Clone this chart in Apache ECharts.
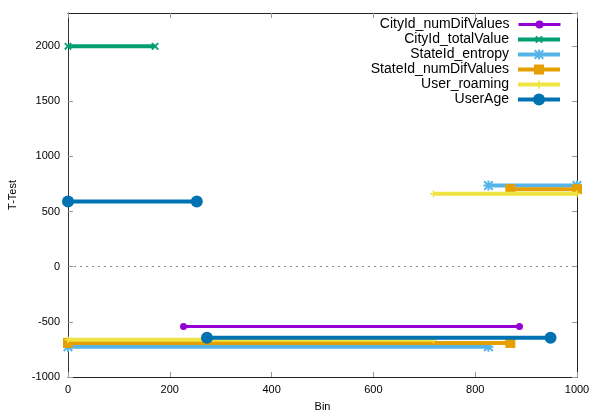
<!DOCTYPE html>
<html>
<head>
<meta charset="utf-8">
<script src="https://cdn.jsdelivr.net/npm/echarts@6/dist/echarts.min.js"></script>
<style>
html,body{margin:0;padding:0;background:#fff;}
#chart{width:595px;height:413px;}
</style>
</head>
<body>
<div id="chart"></div>
<script>
// Series names (legend order = plot order)
const seriesNames = ['CityId_numDifValues', 'CityId_totalValue', 'StateId_entropy', 'StateId_numDifValues', 'User_roaming', 'UserAge'];
// Each series: horizontal segments [xStart, xEnd, yValue]
const cityNumDifSegments = [[227, 887, -542]];
const cityTotalSegments = [[0, 171, 1998]];
const stateEntropySegments = [[0, 826, -725], [826, 1000, 735]];
const stateNumDifSegments = [[0, 869, -691], [869, 1000, 703]];
const userRoamingSegments = [[0, 718, -662], [718, 1000, 662]];
const userAgeSegments = [[0, 253, 592], [273, 948, -645]];
// Axis ticks
const xTicks = [0, 200, 400, 600, 800, 1000];
const yTicks = [-1000, -500, 0, 500, 1000, 1500, 2000];

const segmentLists = [cityNumDifSegments, cityTotalSegments, stateEntropySegments, stateNumDifSegments, userRoamingSegments, userAgeSegments];
const colors = ['#9400d3', '#009e73', '#56b4e9', '#e69f00', '#f0e442', '#0072b2'];
const plusPath = 'path://M4,0H6V4H10V6H6V10H4V6H0V4H4Z';
const starPath = 'path://M4,0H6V4H10V6H6V10H4V6H0V4H4Z M0,1.4L1.4,0L10,8.6L8.6,10Z M8.6,0L10,1.4L1.4,10L0,8.6Z';
const symbols = ['circle', plusPath, starPath, 'rect', plusPath, 'circle'];
const symbolRot = [0, 45, 0, 0, 0, 0];
const symbolSizes = [7, 9, 10, 10, 7, 12];
const lineWidths = [3, 4, 4, 4, 4, 4];

function toData(segs) {
  const out = [];
  segs.forEach(function (s, i) {
    if (i > 0) out.push([s[0], null]);
    out.push([s[0], s[2]]);
    out.push([s[1], s[2]]);
  });
  return out;
}

const series = seriesNames.map(function (name, i) {
  const s = {
    name: name,
    type: 'line',
    data: toData(segmentLists[i]),
    connectNulls: false,
    showSymbol: true,
    symbol: symbols[i],
    symbolSize: symbolSizes[i],
    symbolRotate: symbolRot[i],
    lineStyle: { color: colors[i], width: lineWidths[i] },
    itemStyle: { color: colors[i], borderWidth: 0 },
    emphasis: { disabled: true },
    z: 3 + i
  };
  if (i === 0) {
    s.markLine = {
      silent: true,
      symbol: 'none',
      label: { show: false },
      lineStyle: { color: '#888', type: [2, 4], width: 1 },
      data: [{ yAxis: 0 }],
      z: 1
    };
  }
  return s;
});

const fontFam = 'Liberation Sans, Arial, sans-serif';
const legendRowsTop = 25, legendRowGap = 15;
const legends = seriesNames.map(function (name, i) {
  const ih = Math.max(symbolSizes[i], 8) / 0.8;
  return {
    data: [name],
    orient: 'vertical',
    align: 'right',
    right: 33,
    top: legendRowsTop + i * legendRowGap - Math.max(ih, 15) / 2,
    padding: 0,
    itemWidth: 42,
    itemHeight: ih,
    selectedMode: false,
    lineStyle: { width: lineWidths[i] },
    textStyle: { fontFamily: fontFam, fontSize: 14, color: '#000', padding: [0, 4, 0, 0] }
  };
});

const chart = echarts.init(document.getElementById('chart'), null, { renderer: 'canvas' });
chart.setOption({
  animation: false,
  backgroundColor: '#fff',
  grid: { left: 68, right: 18, top: 13, bottom: 36, containLabel: false, outerBoundsMode: 'none' },
  legend: legends,
  xAxis: [{
    type: 'value', min: 0, max: 1000, interval: 200,
    name: 'Bin', nameLocation: 'middle', nameGap: 24,
    nameTextStyle: { fontFamily: fontFam, fontSize: 11, color: '#000' },
    axisLine: { show: true, onZero: false, lineStyle: { color: '#222', width: 1 } },
    axisTick: { show: true, inside: true, length: 5, lineStyle: { color: '#999' } },
    axisLabel: { fontFamily: fontFam, fontSize: 11, color: '#000', margin: 7,
      formatter: function (v) { return xTicks.indexOf(v) >= 0 ? String(v) : ''; } },
    splitLine: { show: false }
  }, {
    type: 'value', position: 'top', min: 0, max: 1000, interval: 200,
    axisLine: { show: true, onZero: false, lineStyle: { color: '#222', width: 1 } },
    axisTick: { show: true, inside: true, length: 5, lineStyle: { color: '#999' } },
    axisLabel: { show: false }, splitLine: { show: false }
  }],
  yAxis: [{
    type: 'value', min: -1000, max: 2300, interval: 500,
    name: 'T-Test', nameLocation: 'middle', nameGap: 50, nameRotate: 90,
    nameTextStyle: { fontFamily: fontFam, fontSize: 11, color: '#000' },
    axisLine: { show: true, onZero: false, lineStyle: { color: '#333', width: 1 } },
    axisTick: { show: true, inside: true, length: 5, lineStyle: { color: '#999' } },
    axisLabel: { fontFamily: fontFam, fontSize: 11, color: '#000', margin: 8, showMaxLabel: false,
      formatter: function (v) { return yTicks.indexOf(v) >= 0 ? String(v) : ''; } },
    splitLine: { show: false }
  }, {
    type: 'value', position: 'right', min: -1000, max: 2300, interval: 500,
    axisLine: { show: true, onZero: false, lineStyle: { color: '#222', width: 1 } },
    axisTick: { show: true, inside: true, length: 5, lineStyle: { color: '#999' } },
    axisLabel: { show: false }, splitLine: { show: false }
  }],
  series: series
});
</script>
</body>
</html>
